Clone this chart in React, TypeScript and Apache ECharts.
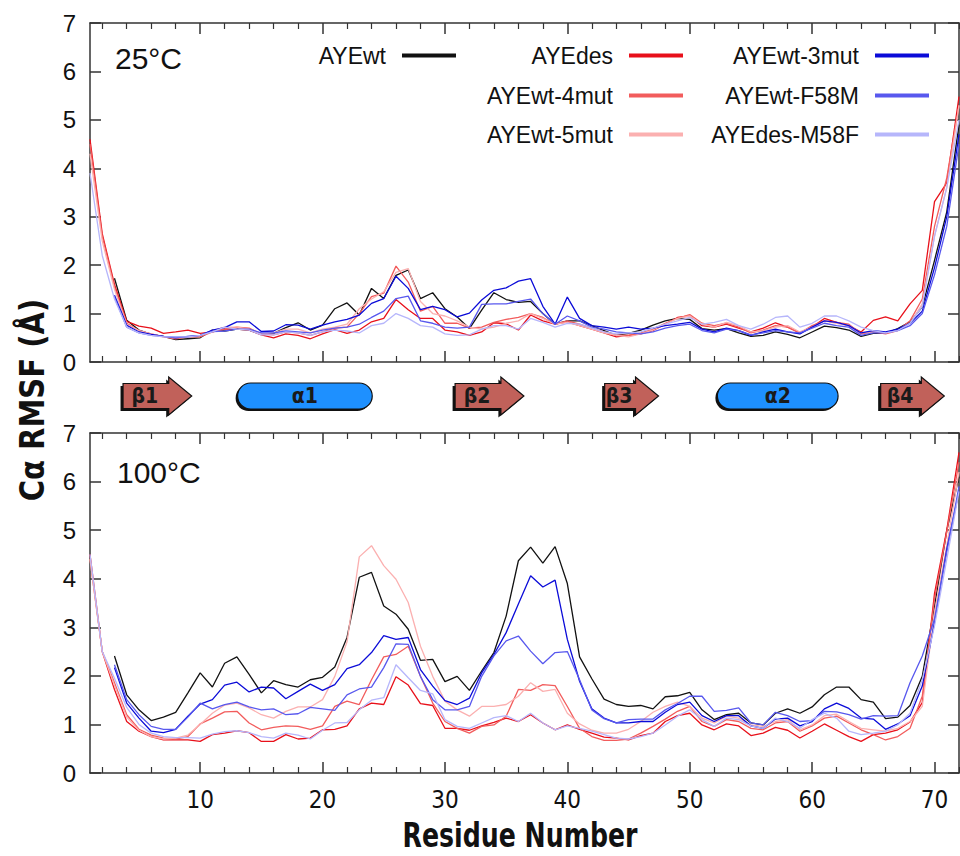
import React, { useEffect, useRef } from "react";
import * as echarts from "echarts";

// ---------- DATA ----------
const residues: number[] = Array.from({ length: 72 }, (_, i) => i + 1);

const seriesNames = ["AYEwt", "AYEdes", "AYEwt-4mut", "AYEwt-5mut", "AYEwt-3mut", "AYEwt-F58M", "AYEdes-M58F"];
const seriesColors = ["#111111", "#e8101a", "#f25c5c", "#fbb0b0", "#0b0bd8", "#5858ee", "#b6b6fb"];

const majorTicks = [10, 20, 30, 40, 50, 60, 70];
const minorTicks = [2, 4, 6, 8, 12, 14, 16, 18, 22, 24, 26, 28, 32, 34, 36, 38, 42, 44, 46, 48, 52, 54, 56, 58, 62, 64, 66, 68, 72];

// 25 °C
const top_wt = [
  null, null, 1.73, 0.86, 0.66, 0.57, 0.53, 0.46, 0.48, 0.50,
  0.66, 0.64, 0.68, 0.66, 0.57, 0.59, 0.71, 0.81, 0.66, 0.76,
  1.10, 1.22, 0.97, 1.52, 1.31, 1.79, 1.90, 1.31, 1.43, 1.10,
  0.93, 0.69, 1.07, 1.43, 1.29, 1.23, 1.25, 1.00, 0.78, 0.85,
  0.85, 0.75, 0.65, 0.55, 0.59, 0.66, 0.76, 0.85, 0.90, 0.88,
  0.69, 0.66, 0.69, 0.60, 0.53, 0.55, 0.62, 0.57, 0.50, 0.62,
  0.74, 0.71, 0.66, 0.53, 0.59, 0.59, 0.69, 0.83, 1.14, 2.10,
  3.10, 4.90];
const top_des = [
  4.60, 2.65, 1.60, 0.84, 0.74, 0.70, 0.59, 0.62, 0.66, 0.59,
  0.62, 0.68, 0.68, 0.66, 0.56, 0.50, 0.58, 0.55, 0.48, 0.58,
  0.67, 0.59, 0.66, 0.83, 0.90, 1.29, 1.08, 0.90, 0.90, 0.66,
  0.62, 0.55, 0.62, 0.81, 0.79, 0.66, 0.97, 0.85, 0.78, 0.83,
  0.75, 0.68, 0.60, 0.52, 0.55, 0.58, 0.65, 0.78, 0.92, 0.95,
  0.75, 0.72, 0.78, 0.70, 0.62, 0.70, 0.81, 0.72, 0.60, 0.72,
  0.90, 0.82, 0.75, 0.62, 0.86, 0.93, 0.85, 1.20, 1.48, 3.31,
  3.70, 5.48];
const top_4mut = [
  4.50, 2.60, 1.55, 0.80, 0.65, 0.58, 0.52, 0.48, 0.52, 0.52,
  0.62, 0.68, 0.72, 0.70, 0.58, 0.56, 0.62, 0.60, 0.55, 0.62,
  0.70, 0.72, 1.00, 1.35, 1.42, 1.98, 1.65, 1.05, 1.15, 0.80,
  0.80, 0.70, 0.72, 0.82, 0.88, 0.92, 1.00, 0.92, 0.78, 0.85,
  0.78, 0.70, 0.62, 0.56, 0.55, 0.60, 0.68, 0.80, 0.90, 0.98,
  0.80, 0.75, 0.80, 0.72, 0.60, 0.66, 0.75, 0.72, 0.60, 0.75,
  0.85, 0.82, 0.78, 0.58, 0.62, 0.58, 0.65, 0.85, 1.30, 2.80,
  3.80, 5.30];
const top_5mut = [
  4.30, 2.50, 1.50, 0.78, 0.65, 0.58, 0.52, 0.50, 0.52, 0.55,
  0.65, 0.72, 0.72, 0.68, 0.58, 0.60, 0.68, 0.68, 0.60, 0.68,
  0.72, 0.78, 1.10, 1.30, 1.45, 1.85, 1.93, 1.25, 1.00, 0.95,
  0.85, 0.72, 0.68, 0.72, 0.80, 0.85, 1.00, 0.90, 0.78, 0.82,
  0.75, 0.68, 0.60, 0.55, 0.52, 0.58, 0.66, 0.78, 0.90, 0.95,
  0.78, 0.72, 0.82, 0.75, 0.62, 0.65, 0.72, 0.75, 0.62, 0.72,
  0.85, 0.80, 0.75, 0.60, 0.62, 0.60, 0.66, 0.80, 1.20, 2.60,
  3.60, 5.30];
const top_3mut = [
  null, null, 1.38, 0.76, 0.62, 0.57, 0.53, 0.50, 0.53, 0.55,
  0.66, 0.71, 0.83, 0.83, 0.63, 0.64, 0.77, 0.76, 0.68, 0.76,
  0.83, 0.88, 0.97, 1.21, 1.31, 1.77, 1.52, 1.08, 1.15, 1.08,
  0.93, 1.01, 1.28, 1.48, 1.53, 1.67, 1.72, 1.15, 0.78, 1.34,
  0.90, 0.75, 0.72, 0.68, 0.72, 0.68, 0.70, 0.75, 0.78, 0.82,
  0.68, 0.62, 0.70, 0.65, 0.55, 0.62, 0.68, 0.62, 0.58, 0.72,
  0.85, 0.82, 0.75, 0.60, 0.65, 0.62, 0.68, 0.80, 1.05, 1.95,
  3.00, 4.70];
const top_F58M = [
  null, null, 1.34, 0.72, 0.60, 0.55, 0.53, 0.52, 0.52, 0.55,
  0.63, 0.64, 0.68, 0.68, 0.60, 0.60, 0.64, 0.62, 0.60, 0.66,
  0.70, 0.72, 0.78, 0.92, 1.05, 1.31, 1.36, 0.85, 0.80, 0.72,
  0.70, 0.72, 1.19, 1.20, 1.20, 1.25, 1.30, 1.00, 0.78, 0.95,
  0.85, 0.72, 0.68, 0.62, 0.60, 0.58, 0.62, 0.70, 0.75, 0.78,
  0.65, 0.60, 0.68, 0.65, 0.56, 0.60, 0.65, 0.62, 0.60, 0.70,
  0.80, 0.75, 0.72, 0.55, 0.60, 0.60, 0.65, 0.75, 1.00, 1.80,
  2.80, 4.50];
const top_M58F = [
  3.90, 2.20, 1.30, 0.72, 0.60, 0.55, 0.52, 0.52, 0.52, 0.55,
  0.62, 0.72, 0.68, 0.66, 0.56, 0.56, 0.62, 0.60, 0.55, 0.62,
  0.66, 0.64, 0.60, 0.75, 0.80, 1.00, 0.90, 0.75, 0.72, 0.58,
  0.55, 0.56, 0.68, 0.75, 0.75, 0.68, 0.90, 0.82, 0.72, 0.80,
  0.78, 0.70, 0.62, 0.58, 0.60, 0.62, 0.70, 0.78, 0.85, 0.92,
  0.78, 0.82, 0.88, 0.75, 0.68, 0.78, 0.92, 0.95, 0.72, 0.80,
  0.95, 0.95, 0.85, 0.72, 0.65, 0.60, 0.65, 0.80, 1.15, 2.60,
  3.60, 5.00];

// 100 °C
const bot_wt = [
  null, null, 2.41, 1.61, 1.30, 1.08, 1.15, 1.25, 1.65, 2.06,
  1.77, 2.26, 2.39, 2.03, 1.65, 1.90, 1.82, 1.77, 1.92, 1.97,
  2.18, 2.79, 4.03, 4.13, 3.44, 3.27, 2.96, 2.32, 2.34, 1.88,
  1.99, 1.70, 2.10, 2.48, 3.23, 4.37, 4.65, 4.32, 4.66, 3.90,
  2.39, 1.94, 1.52, 1.41, 1.37, 1.39, 1.32, 1.57, 1.59, 1.66,
  1.30, 1.10, 1.20, 1.23, 1.03, 0.99, 1.23, 1.32, 1.23, 1.36,
  1.61, 1.77, 1.77, 1.51, 1.46, 1.12, 1.15, 1.39, 1.99, 3.44,
  4.99, 6.10];
const bot_des = [
  4.50, 2.50, 1.72, 1.06, 0.86, 0.75, 0.68, 0.68, 0.68, 0.65,
  0.79, 0.82, 0.87, 0.83, 0.65, 0.65, 0.79, 0.70, 0.72, 0.89,
  0.90, 0.97, 1.32, 1.44, 1.41, 1.98, 1.81, 1.43, 1.39, 0.92,
  0.92, 0.88, 0.97, 1.04, 1.13, 1.06, 1.20, 1.03, 0.89, 0.99,
  0.90, 0.82, 0.74, 0.72, 0.68, 0.77, 0.82, 1.06, 1.18, 1.23,
  0.99, 0.89, 1.01, 0.97, 0.77, 0.82, 0.94, 0.88, 0.72, 0.86,
  1.01, 0.88, 0.75, 0.65, 0.79, 0.82, 0.89, 1.05, 1.45, 3.70,
  5.00, 6.60];
const bot_4mut = [
  4.40, 2.50, 1.86, 1.20, 0.90, 0.78, 0.72, 0.70, 0.75, 1.01,
  1.13, 1.26, 1.27, 1.03, 0.89, 0.94, 0.97, 0.96, 0.90, 0.97,
  1.37, 1.48, 1.41, 1.92, 2.39, 2.44, 2.61, 1.99, 1.44, 1.06,
  0.92, 0.82, 0.96, 0.99, 1.17, 1.72, 1.70, 1.82, 1.80, 1.37,
  0.92, 0.75, 0.67, 0.67, 0.70, 0.82, 0.96, 1.11, 1.27, 1.37,
  1.06, 0.96, 1.10, 1.06, 0.92, 0.89, 1.03, 1.06, 0.86, 0.97,
  1.13, 1.17, 1.03, 0.89, 0.79, 0.68, 0.75, 0.92, 1.58, 3.58,
  4.96, 6.40];
const bot_5mut = [
  4.40, 2.50, 1.80, 1.15, 0.88, 0.75, 0.70, 0.72, 0.78, 1.00,
  1.23, 1.40, 1.44, 1.34, 1.20, 1.13, 1.27, 1.36, 1.36, 1.51,
  1.99, 2.70, 4.45, 4.68, 4.27, 3.99, 3.51, 2.61, 1.99, 1.48,
  1.30, 1.17, 1.37, 1.37, 1.41, 1.58, 1.86, 1.68, 1.72, 1.23,
  1.01, 0.88, 0.82, 0.82, 0.90, 1.06, 1.25, 1.37, 1.46, 1.37,
  1.13, 1.03, 1.17, 1.13, 0.99, 0.96, 1.06, 1.10, 0.89, 0.99,
  1.18, 1.21, 1.06, 0.92, 0.89, 0.86, 0.92, 1.06, 1.37, 3.30,
  4.68, 6.20];
const bot_3mut = [
  null, null, 2.17, 1.44, 1.13, 0.86, 0.83, 0.90, 1.17, 1.42,
  1.51, 1.81, 1.87, 1.67, 1.77, 1.75, 1.53, 1.68, 1.83, 1.70,
  1.82, 2.15, 2.23, 2.48, 2.83, 2.75, 2.79, 2.13, 1.79, 1.49,
  1.41, 1.54, 2.06, 2.44, 2.89, 3.48, 4.06, 3.83, 3.97, 2.75,
  1.89, 1.32, 1.13, 1.03, 1.03, 1.06, 1.06, 1.25, 1.41, 1.46,
  1.18, 1.06, 1.18, 1.18, 0.97, 0.92, 1.11, 1.13, 0.97, 1.06,
  1.32, 1.44, 1.33, 1.13, 1.11, 0.90, 1.01, 1.18, 1.79, 3.10,
  4.61, 5.80];
const bot_F58M = [
  null, null, 2.23, 1.51, 1.20, 0.96, 0.90, 0.90, 1.15, 1.44,
  1.32, 1.41, 1.46, 1.36, 1.30, 1.32, 1.20, 1.22, 1.35, 1.32,
  1.29, 1.61, 1.73, 1.77, 2.17, 2.66, 2.65, 1.99, 1.51, 1.30,
  1.30, 1.37, 1.99, 2.41, 2.72, 2.82, 2.51, 2.25, 2.48, 2.50,
  1.92, 1.30, 1.12, 1.03, 1.10, 1.11, 1.11, 1.30, 1.43, 1.58,
  1.58, 1.27, 1.29, 1.34, 1.03, 0.99, 1.25, 1.18, 1.06, 1.08,
  1.27, 1.26, 1.20, 1.11, 1.18, 1.17, 1.18, 1.86, 2.41, 3.17,
  4.54, 5.90];
const bot_M58F = [
  4.50, 2.50, 1.95, 1.35, 1.00, 0.82, 0.75, 0.73, 0.73, 0.72,
  0.80, 0.85, 0.87, 0.83, 0.75, 0.72, 0.82, 0.78, 0.70, 0.88,
  1.03, 1.04, 1.30, 1.50, 1.55, 2.23, 1.96, 1.70, 1.63, 1.10,
  0.96, 0.92, 1.03, 1.14, 1.18, 1.06, 1.23, 1.03, 0.89, 0.97,
  0.92, 0.86, 0.79, 0.72, 0.70, 0.75, 0.82, 0.99, 1.17, 1.30,
  1.10, 0.96, 1.13, 1.10, 0.97, 0.92, 1.13, 1.06, 0.92, 1.10,
  1.23, 1.13, 0.86, 0.79, 0.82, 0.86, 0.99, 1.23, 1.92, 3.03,
  4.40, 5.80];

const topSeries = [top_wt, top_des, top_4mut, top_5mut, top_3mut, top_F58M, top_M58F];
const botSeries = [bot_wt, bot_des, bot_4mut, bot_5mut, bot_3mut, bot_F58M, bot_M58F];

// secondary structure (residue ranges)
const ssLabels = ["β1", "α1", "β2", "β3", "α2", "β4"];
const ssKinds = [0, 1, 0, 0, 1, 0]; // 0 strand, 1 helix
const ssStart = [3.7, 13.06, 30.83, 43.05, 52.26, 65.6];
const ssEnd = [9.31, 24.06, 36.45, 47.45, 62.12, 70.8];

// ---------- STYLE ----------
const SANS = "'Liberation Sans', Arial, Helvetica, sans-serif";
const NARROW = "'Liberation Sans Narrow', 'Arial Narrow', 'DejaVu Sans Condensed', sans-serif";
const AX = "#333333";

function xAxesFor(gridIndex: number, labels: boolean) {
  const common = {
    type: "value" as const,
    gridIndex,
    min: 1,
    max: 72,
    splitLine: { show: false },
  };
  const line = { show: true, onZero: false, lineStyle: { color: AX, width: 1.5 } };
  return [
    {
      ...common,
      position: "bottom",
      axisLine: line,
      axisTick: { show: true, inside: true, length: 11, customValues: majorTicks, lineStyle: { color: AX, width: 1.5 } },
      axisLabel: labels
        ? { show: true, customValues: majorTicks, fontSize: 24, fontFamily: NARROW, color: "#111", margin: 15 }
        : { show: false },
    },
    {
      ...common,
      position: "top",
      axisLine: line,
      axisTick: { show: true, inside: true, length: 11, customValues: majorTicks, lineStyle: { color: AX, width: 1.5 } },
      axisLabel: { show: false },
    },
    {
      ...common,
      position: "bottom",
      axisLine: { show: false, onZero: false },
      axisTick: { show: true, inside: true, length: 6, customValues: minorTicks, lineStyle: { color: AX, width: 1.2 } },
      axisLabel: { show: false },
    },
    {
      ...common,
      position: "top",
      axisLine: { show: false, onZero: false },
      axisTick: { show: true, inside: true, length: 6, customValues: minorTicks, lineStyle: { color: AX, width: 1.2 } },
      axisLabel: { show: false },
    },
  ];
}

function yAxesFor(gridIndex: number) {
  const line = { show: true, onZero: false, lineStyle: { color: AX, width: 1.5 } };
  const tick = { show: true, inside: true, length: 11, lineStyle: { color: AX, width: 1.5 } };
  return [
    {
      type: "value", gridIndex, min: 0, max: 7, interval: 1, position: "left",
      axisLine: line, axisTick: tick, splitLine: { show: false },
      axisLabel: { fontSize: 24, fontFamily: SANS, color: "#111", margin: 14 },
    },
    {
      type: "value", gridIndex, min: 0, max: 7, interval: 1, position: "right",
      axisLine: line, axisTick: tick, splitLine: { show: false }, axisLabel: { show: false },
    },
  ];
}

function toPairs(vals: (number | null)[]) {
  const out: number[][] = [];
  residues.forEach((r, i) => {
    const v = vals[i];
    if (v !== null && v !== undefined) out.push([r, v]);
  });
  return out;
}

const legendRight = [504, 277, 277, 277, 31, 31, 31];
const legendRowY = [57, 57, 97, 136, 57, 97, 136];

export default function App() {
  const ref = useRef<HTMLDivElement>(null);
  useEffect(() => {
    if (!ref.current) return;
    const chart = echarts.init(ref.current, undefined, { renderer: "svg" });

    const lineSeries: any[] = [];
    [topSeries, botSeries].forEach((set, panel) => {
      set.forEach((vals, i) => {
        lineSeries.push({
          type: "line",
          name: seriesNames[i],
          xAxisIndex: panel === 0 ? 0 : 4,
          yAxisIndex: panel === 0 ? 0 : 2,
          data: toPairs(vals),
          symbol: "none",
          color: seriesColors[i],
          lineStyle: { color: seriesColors[i], width: 1.3 },
          clip: true,
          z: 2,
        });
      });
    });

    const ssData = ssStart.map((s, i) => [s, ssEnd[i], ssKinds[i]]);

    const customSeries = {
      type: "custom",
      xAxisIndex: 8,
      yAxisIndex: 4,
      data: ssData,
      silent: true,
      renderItem: (params: any, api: any) => {
        const s = api.value(0);
        const e = api.value(1);
        const kind = api.value(2);
        const label = ssLabels[params.dataIndex];
        const p0 = api.coord([s, 0.5]);
        const p1 = api.coord([e, 0.5]);
        const cy = p0[1];
        const textStyle = {
          text: label,
          fill: "#1a1a1a",
          fontSize: 21,
          fontWeight: "bold",
          fontFamily: NARROW,
          align: "center",
          verticalAlign: "middle",
        };
        if (kind === 0) {
          const head = 23, bh = 12.5, hh = 19;
          const x0 = p0[0], x2 = p1[0], x1 = x2 - head;
          const pts = [[x0, cy - bh], [x1, cy - bh], [x1, cy - hh], [x2, cy], [x1, cy + hh], [x1, cy + bh], [x0, cy + bh]];
          const sh = pts.map((p) => [p[0] - 2.5, p[1] + 2.5]);
          return {
            type: "group",
            children: [
              { type: "polygon", shape: { points: sh }, style: { fill: "#111" } },
              { type: "polygon", shape: { points: pts }, style: { fill: "#c1615a", stroke: "#111", lineWidth: 1.2 } },
              { type: "text", x: (x0 + x1) / 2 - 1, y: cy, style: textStyle },
            ],
          };
        }
        const h = 26;
        return {
          type: "group",
          children: [
            { type: "rect", shape: { x: p0[0] - 2, y: cy - h / 2 + 2, width: p1[0] - p0[0], height: h, r: h / 2 }, style: { fill: "#111" } },
            { type: "rect", shape: { x: p0[0], y: cy - h / 2, width: p1[0] - p0[0], height: h, r: h / 2 }, style: { fill: "#1e90ff", stroke: "#111", lineWidth: 1.2 } },
            { type: "text", x: (p0[0] + p1[0]) / 2, y: cy, style: textStyle },
          ],
        };
      },
    };

    const legends = seriesNames.map((n, i) => ({
      data: [n],
      orient: "horizontal",
      align: "right",
      right: legendRight[i],
      top: legendRowY[i] - 13,
      padding: 0,
      itemGap: 0,
      itemWidth: 54,
      itemHeight: 4,
      icon: "rect",
      selectedMode: false,
      textStyle: { fontSize: 23, fontFamily: SANS, color: "#111", padding: [0, 11, 0, 0] },
    }));

    const option: any = {
      animation: false,
      backgroundColor: "#ffffff",
      grid: [
        { left: 90, top: 23, width: 869, height: 339 },
        { left: 90, top: 433, width: 869, height: 340 },
        { left: 90, top: 372, width: 869, height: 48 },
      ],
      xAxis: [
        ...xAxesFor(0, false),
        ...xAxesFor(1, true),
        { type: "value", gridIndex: 2, min: 1, max: 72, show: false },
      ],
      yAxis: [
        ...yAxesFor(0),
        ...yAxesFor(1),
        { type: "value", gridIndex: 2, min: 0, max: 1, show: false },
      ],
      legend: legends,
      series: [...lineSeries, customSeries],
      graphic: [
        { type: "text", left: 115, top: 43, style: { text: "25°C", fontSize: 30, fontFamily: SANS, fill: "#111" } },
        { type: "text", left: 117, top: 457, style: { text: "100°C", fontSize: 30, fontFamily: SANS, fill: "#111" } },
        {
          type: "text", x: 32, y: 400, rotation: Math.PI / 2, scaleX: 0.95,
          style: { text: "Cα RMSF (Å)", fontSize: 34, fontWeight: "bold", fontFamily: NARROW, fill: "#111", align: "center", verticalAlign: "middle" },
        },
        {
          type: "text", x: 520, y: 836, scaleX: 0.85,
          style: { text: "Residue Number", fontSize: 33, fontWeight: "bold", fontFamily: NARROW, fill: "#111", align: "center", verticalAlign: "middle" },
        },
      ],
    };
    chart.setOption(option);
    return () => chart.dispose();
  }, []);
  return <div ref={ref} style={{ position: "absolute", left: 0, top: 0, width: 960, height: 856 }} />;
}
